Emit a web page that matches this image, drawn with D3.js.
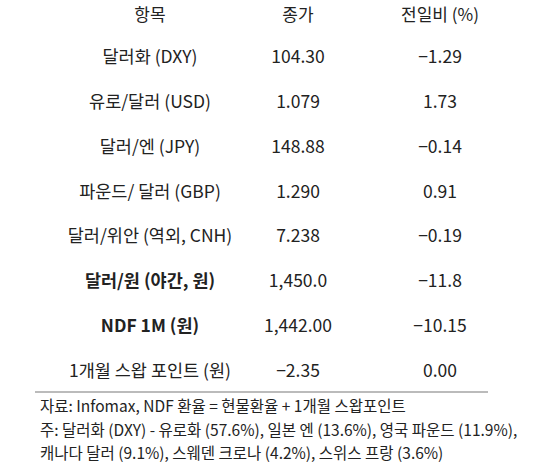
<!DOCTYPE html>
<html><head><meta charset="utf-8">
<script src="https://cdn.jsdelivr.net/npm/d3@7"></script>
<style>body{margin:0;background:#fff}</style></head>
<body><svg id="c" width="553" height="462"></svg>
<script>
var headers = ["항목", "종가", "전일비 (%)"];
var items = ["달러화 (DXY)", "유로/달러 (USD)", "달러/엔 (JPY)", "파운드/ 달러 (GBP)", "달러/위안 (역외, CNH)", "달러/원 (야간, 원)", "NDF 1M (원)", "1개월 스왑 포인트 (원)"];
var closes = ["104.30", "1.079", "148.88", "1.290", "7.238", "1,450.0", "1,442.00", "−2.35"];
var changes = ["−1.29", "1.73", "−0.14", "0.91", "−0.19", "−11.8", "−10.15", "0.00"];
var boldRows = [5, 6];
var notes = ["자료: Infomax, NDF 환율 = 현물환율 + 1개월 스왑포인트",
  "주: 달러화 (DXY) - 유로화 (57.6%), 일본 엔 (13.6%), 영국 파운드 (11.9%),",
  "캐나다 달러 (9.1%), 스웨덴 크로나 (4.2%), 스위스 프랑 (3.6%)"];

var svg = d3.select("#c");
var font = "'Noto Sans CJK KR', sans-serif";
var colX = [150, 298, 440];
var y = d3.scaleLinear().domain([0, 7]).range([57, 371]);

svg.selectAll(".hdr").data(headers).enter().append("text")
    .attr("x", function (d, i) { return colX[i]; })
    .attr("y", 21).attr("text-anchor", "middle")
    .style("font-family", font).style("font-size", "17px").style("fill", "#222")
    .text(function (d) { return d; });

var rows = items.map(function (d, i) { return [d, closes[i], changes[i]]; });
var g = svg.selectAll(".row").data(rows).enter().append("g")
    .attr("transform", function (d, i) { return "translate(0," + (y(i) + 6) + ")"; });
g.each(function (r, ri) {
    var bold = boldRows.indexOf(ri) > -1;
    d3.select(this).selectAll("text").data(r).enter().append("text")
        .attr("x", function (d, i) { return colX[i]; })
        .attr("text-anchor", "middle")
        .style("font-family", font).style("font-size", "17.5px").style("fill", "#222")
        .style("font-weight", function (d, i) { return bold && i == 0 ? "bold" : "normal"; })
        .text(function (d) { return d; });
});

svg.append("line").attr("x1", 35).attr("x2", 488).attr("y1", 392).attr("y2", 392)
    .style("stroke", "#bbb").style("stroke-width", 2);

svg.selectAll(".note").data(notes).enter().append("text")
    .attr("x", 40).attr("y", function (d, i) { return 412 + i * 23.5; })
    .style("font-family", font).style("font-size", "15.5px").style("fill", "#222")
    .text(function (d) { return d; });
</script></body></html>
